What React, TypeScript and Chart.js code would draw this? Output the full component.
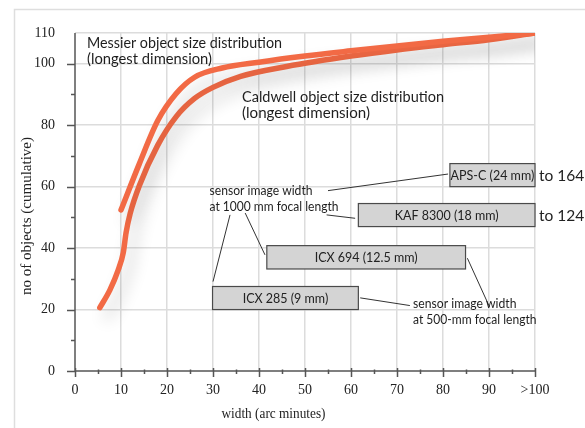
import React, { useEffect, useRef } from "react";
import { Chart, registerables } from "chart.js";

Chart.register(...registerables);

// ---- data ----
const messierX = [10, 14, 18, 22, 26, 32, 40, 50, 60, 70, 80, 90, 100];
const messierY = [52.4, 67.5, 81.5, 90.3, 95.6, 98.6, 100.5, 102.5, 104.2, 105.8, 107.3, 108.6, 110];

const caldwellX = [5.4, 7.6, 9.4, 10.5, 11.1, 12, 14, 18, 22, 26, 30, 36, 46, 60, 70, 80, 90, 100];
const caldwellY = [20.6, 26.4, 32.9, 38.6, 45, 51.3, 60.4, 73.5, 82.8, 88.7, 92.3, 95.9, 99.1, 102.5, 104.5, 106.2, 107.8, 110];

const xTickValues = [0, 10, 20, 30, 40, 50, 60, 70, 80, 90, 100];
const xTickLabels = ["0", "10", "20", "30", "40", "50", "60", "70", "80", "90", ">100"];
const yTickValues = [0, 10, 20, 30, 40, 50, 60, 70, 80, 90, 100, 110];
const yTickLabels = ["0", "", "20", "", "40", "", "60", "", "80", "", "100", "110"];

const sensorLabels = ["ICX 285 (9 mm)", "ICX 694 (12.5 mm)", "KAF 8300 (18 mm)", "APS-C (24 mm)"];
const sensorStart = [29.9, 41.7, 61.6, 81.5];
const sensorEnd = [61.6, 84.9, 124, 164];
const sensorYLow = [20, 33.2, 47, 60];
const sensorYHigh = [27.5, 40.8, 54.5, 67.5];
const overflowLabels = ["", "", "to 124", "to 164"];

const LINE = "#f26a45";
const SERIF = "'Liberation Serif', 'DejaVu Serif', serif";
const SANS = "Lato, 'Open Sans', sans-serif";

function drawFit(ctx: CanvasRenderingContext2D, text: string, x: number, y: number, font: string, width: number, align: "left" | "center" = "left") {
  ctx.save();
  ctx.font = font;
  const m = ctx.measureText(text).width;
  const s = width / m;
  ctx.translate(x, y);
  ctx.scale(s, 1);
  ctx.textAlign = align;
  ctx.textBaseline = "alphabetic";
  ctx.fillText(text, 0, 0);
  ctx.restore();
}

const decorPlugin = {
  id: "decor",
  beforeDraw(chart: any) {
    const ctx = chart.ctx as CanvasRenderingContext2D;
    ctx.save();
    ctx.fillStyle = "#ffffff";
    ctx.fillRect(0, 0, chart.width, chart.height);
    ctx.strokeStyle = "#dedede";
    ctx.lineWidth = 1.5;
    ctx.strokeRect(14.5, 9.5, chart.width + 20, chart.height + 20);
    ctx.restore();
  },
  beforeDatasetsDraw(chart: any) {
    const ctx = chart.ctx as CanvasRenderingContext2D;
    ctx.save();
    ctx.shadowColor = "rgba(0,0,0,0.2)";
    ctx.shadowBlur = 16;
    ctx.shadowOffsetX = 7;
    ctx.shadowOffsetY = 10;
  },
  afterDatasetsDraw(chart: any) {
    const ctx = chart.ctx as CanvasRenderingContext2D;
    ctx.restore();
    const xs = chart.scales.x;
    const ys = chart.scales.y;
    const X = (v: number) => xs.getPixelForValue(v);
    const Y = (v: number) => ys.getPixelForValue(v);

    // axes
    ctx.save();
    ctx.strokeStyle = "#555";
    ctx.lineWidth = 1.5;
    ctx.beginPath();
    ctx.moveTo(X(0), Y(0));
    ctx.lineTo(X(100), Y(0));
    ctx.moveTo(X(0), Y(0));
    ctx.lineTo(X(0), Y(110));
    for (let v = 0; v <= 100; v += 5) {
      const major = v % 10 === 0;
      const px = Math.round(X(v)) + 0.5;
      ctx.moveTo(px, Y(0) - (major ? 3 : 1.5));
      ctx.lineTo(px, Y(0) + (major ? 6 : 3));
    }
    for (let v = 0; v <= 100; v += 10) {
      const major = v % 20 === 0;
      const py = Math.round(Y(v)) + 0.5;
      ctx.moveTo(X(0), py);
      ctx.lineTo(X(0) - (major ? 8 : 4), py);
    }
    ctx.stroke();
    ctx.restore();

    // sensor boxes
    ctx.save();
    for (let i = 0; i < sensorLabels.length; i++) {
      const x0 = X(sensorStart[i]);
      const x1 = X(Math.min(sensorEnd[i], 100));
      const y0 = Y(sensorYHigh[i]);
      const y1 = Y(sensorYLow[i]);
      ctx.fillStyle = "#d4d4d4";
      ctx.fillRect(x0, y0, x1 - x0, y1 - y0);
      ctx.strokeStyle = "#4a4a4a";
      ctx.lineWidth = 1.2;
      ctx.strokeRect(x0, y0, x1 - x0, y1 - y0);
      ctx.fillStyle = "#222";
      ctx.font = `12.5px ${SANS}`;
      ctx.textAlign = "center";
      ctx.textBaseline = "middle";
      ctx.fillText(sensorLabels[i], (x0 + x1) / 2, (y0 + y1) / 2 + 0.5);
      if (overflowLabels[i]) {
        ctx.font = `15.5px ${SANS}`;
        ctx.textAlign = "left";
        ctx.fillText(overflowLabels[i], x1 + 4, (y0 + y1) / 2 + 1);
      }
    }
    ctx.restore();

    // connector lines
    const conn = [
      [55, 58.7, 81.1, 64.1],
      [54.7, 50.8, 60.9, 49.7],
      [37, 51.4, 41.3, 37.8],
      [33.7, 50.8, 30, 29.1],
      [62, 23.8, 72.8, 21.3],
      [85.3, 36.7, 90.1, 20.9],
    ];
    ctx.save();
    ctx.strokeStyle = "#333";
    ctx.lineWidth = 1;
    ctx.beginPath();
    for (const c of conn) {
      ctx.moveTo(X(c[0]), Y(c[1]));
      ctx.lineTo(X(c[2]), Y(c[3]));
    }
    ctx.stroke();
    ctx.restore();
  },
  afterDraw(chart: any) {
    const ctx = chart.ctx as CanvasRenderingContext2D;
    ctx.save();
    ctx.fillStyle = "#1e1e1e";
    drawFit(ctx, "Messier object size distribution", 87, 48, `15.5px ${SANS}`, 195);
    drawFit(ctx, "(longest dimension)", 87, 64, `15.5px ${SANS}`, 125);
    drawFit(ctx, "Caldwell object size distribution", 242, 102, `15.5px ${SANS}`, 202);
    drawFit(ctx, "(longest dimension)", 242, 118, `15.5px ${SANS}`, 128);
    drawFit(ctx, "sensor image width", 209.5, 195, `12.5px ${SANS}`, 103);
    drawFit(ctx, "at 1000 mm focal length", 209.5, 210.5, `12.5px ${SANS}`, 129);
    drawFit(ctx, "sensor image width", 413, 308, `12.5px ${SANS}`, 103.5);
    drawFit(ctx, "at 500-mm focal length", 413, 324, `12.5px ${SANS}`, 123.5);

    // axis titles
    ctx.fillStyle = "#222";
    drawFit(ctx, "width (arc minutes)", 273.5, 418, `14.5px ${SERIF}`, 104, "center");
    ctx.save();
    ctx.translate(31, 216);
    ctx.rotate(-Math.PI / 2);
    drawFit(ctx, "no of objects (cumulative)", 0, 0, `14.5px ${SERIF}`, 158, "center");
    ctx.restore();
    ctx.restore();
  },
};

export default function App() {
  const ref = useRef<HTMLCanvasElement>(null);
  useEffect(() => {
    document.body.style.margin = "0";
    const lineStyle = {
      borderColor: LINE,
      borderWidth: 5.5,
      pointRadius: 0,
      cubicInterpolationMode: "monotone",
      borderCapStyle: "round",
      borderJoinStyle: "round",
      fill: false,
    };
    const chart = new Chart(ref.current as HTMLCanvasElement, {
      type: "line",
      data: {
        datasets: [
          { label: "Messier", data: messierX.map((x, i) => ({ x, y: messierY[i] })), ...lineStyle },
          { label: "Caldwell", data: caldwellX.map((x, i) => ({ x, y: caldwellY[i] })), ...lineStyle },
        ],
      },
      options: {
        animation: false,
        responsive: false,
        layout: { padding: { left: 0, top: 33, right: 50, bottom: 0 } },
        plugins: { legend: { display: false }, tooltip: { enabled: false }, title: { display: false } },
        scales: {
          x: {
            type: "linear",
            min: 0,
            max: 100,
            afterBuildTicks: (s: any) => {
              s.ticks = xTickValues.map((v) => ({ value: v }));
            },
            afterFit: (s: any) => {
              s.height = 57;
            },
            ticks: {
              padding: 11,
              maxRotation: 0,
              autoSkip: false,
              color: "#222",
              font: { family: SERIF, size: 14 },
              callback: (v: any) => xTickLabels[xTickValues.indexOf(Number(v))],
            },
            grid: {
              drawTicks: false,
              lineWidth: 1.5,
              color: (c: any) => (c.tick && c.tick.value === 0 ? "rgba(0,0,0,0)" : "#dcdcdc"),
            },
            border: { display: false },
          },
          y: {
            type: "linear",
            min: 0,
            max: 110,
            afterBuildTicks: (s: any) => {
              s.ticks = yTickValues.map((v) => ({ value: v }));
            },
            afterFit: (s: any) => {
              s.width = 75;
            },
            ticks: {
              padding: 20,
              autoSkip: false,
              color: "#222",
              font: { family: SERIF, size: 14 },
              callback: (v: any) => yTickLabels[yTickValues.indexOf(Number(v))],
            },
            grid: {
              drawTicks: false,
              lineWidth: 1.5,
              color: (c: any) => {
                const v = c.tick ? c.tick.value : 0;
                return v !== 0 && (v % 20 === 0 || v === 110) ? "#dcdcdc" : "rgba(0,0,0,0)";
              },
            },
            border: { display: false },
          },
        },
      },
      plugins: [decorPlugin],
    } as any);
    return () => chart.destroy();
  }, []);
  return (
    <div style={{ position: "fixed", left: 0, top: 0, width: 585, height: 428 }}>
      <canvas ref={ref} width={585} height={428} />
    </div>
  );
}
